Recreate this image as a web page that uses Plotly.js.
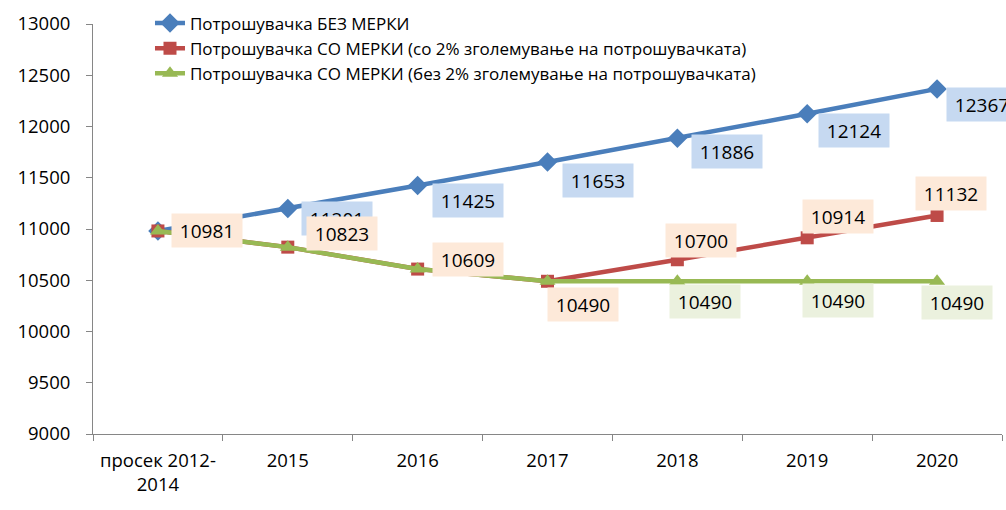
<!DOCTYPE html>
<html><head><meta charset="utf-8">
<script src="https://cdn.plot.ly/plotly-3.0.1.min.js"></script>
<style>html,body{margin:0;padding:0;background:#fff}#chart{width:1006px;height:510px}</style>
</head><body><div id="chart"></div>
<script>
const categories = ["просек 2012-<br>2014", "2015", "2016", "2017", "2018", "2019", "2020"];
const seriesNames = [
  "Потрошувачка БЕЗ МЕРКИ",
  "Потрошувачка СО МЕРКИ (со 2% зголемување на потрошувачката)",
  "Потрошувачка СО МЕРКИ (без 2% зголемување на потрошувачката)"
];
const bezMerki = [10981, 11201, 11425, 11653, 11886, 12124, 12367];
const soMerki2 = [10981, 10823, 10609, 10490, 10700, 10914, 11132];
const soMerkiBez2 = [10981, 10823, 10609, 10490, 10490, 10490, 10490];
const yTicks = [9000, 9500, 10000, 10500, 11000, 11500, 12000, 12500, 13000];

const colors = ["#4A7EBB", "#BE4B48", "#98B954"];
const labelBg = ["#C6D9F1", "#FDE9D9", "#EBF1DE"];
const FONT = "Open Sans, Liberation Sans, sans-serif";

const traces = [
  {y: bezMerki, sym: "diamond", size: 15},
  {y: soMerki2, sym: "square", size: 13},
  {y: soMerkiBez2, sym: "triangle-up", size: 14}
].map((s, i) => ({
  type: "scatter", mode: "lines+markers", name: seriesNames[i],
  x: categories, y: s.y,
  line: {color: colors[i], width: 4.5},
  marker: {symbol: s.sym, size: s.size, color: colors[i]}
}));

// label offsets (px) per series point; null = label hidden behind another
const offs = [
  [null, [49, -10], [50, -15], [50, -18], [50, -13], [47, -17], [45, -16]],
  [[49, 0], [54, 14], [50, 10], [35, -23], [24, 19], [31, 21], [14, 22]],
  [null, null, null, null, [28, -20], [31, -19], [20, -21]]
];
const order = [0, 2, 1];
const annotations = [];
order.forEach(si => {
  const vals = [bezMerki, soMerki2, soMerkiBez2][si];
  vals.forEach((v, j) => {
    const o = offs[si][j];
    if (!o) return;
    annotations.push({
      x: j, y: v, xref: "x", yref: "y",
      text: String(v), showarrow: false,
      xshift: o[0], yshift: o[1],
      bgcolor: labelBg[si], width: 66, height: 29, borderpad: 2,
      font: {family: FONT, size: 19, color: "#000"}
    });
  });
});

const layout = {
  width: 1006, height: 510,
  margin: {l: 93, r: 4, t: 24, b: 76},
  paper_bgcolor: "#fff", plot_bgcolor: "#fff",
  showlegend: true,
  legend: {
    x: 0.0627, y: 1.045, xanchor: "left", yanchor: "top",
    bgcolor: "rgba(0,0,0,0)",
    font: {family: FONT, size: 17, color: "#000"},
    tracegroupgap: 0
  },
  xaxis: {
    type: "category", range: [-0.5, 6.5],
    showline: true, linecolor: "#868686", linewidth: 1,
    ticks: "outside", tickson: "boundaries", ticklen: 6, tickcolor: "#868686",
    ticklabelstandoff: 10,
    showgrid: false, zeroline: false,
    tickfont: {family: FONT, size: 18.5, color: "#000"}
  },
  yaxis: {
    range: [9000, 13000], tickvals: yTicks, ticktext: yTicks.map(String),
    showline: true, linecolor: "#868686", linewidth: 1,
    ticks: "outside", ticklen: 6, tickcolor: "#868686",
    ticklabelstandoff: 12,
    showgrid: false, zeroline: false,
    tickfont: {family: FONT, size: 18.5, color: "#000"}
  },
  annotations: annotations
};
Plotly.newPlot("chart", traces, layout, {staticPlot: true, displayModeBar: false});
</script></body></html>
